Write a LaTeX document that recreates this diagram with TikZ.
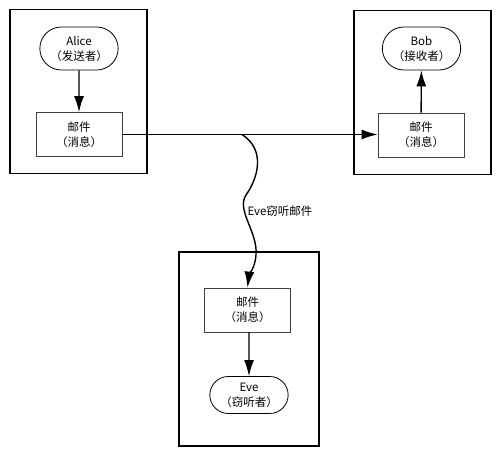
\documentclass[tikz,border=0pt]{standalone}
\usepackage{fontspec}
\setmainfont{Noto Sans CJK SC}
\usetikzlibrary{positioning, arrows.meta, shapes.misc}

\tikzset{
    frame/.style={draw, line width=1.5pt, minimum width=137pt, minimum height=164pt},
    msg/.style={draw=black!75, line width=0.8pt, fill=white, minimum width=86pt, minimum height=44pt, align=center, font=\fontsize{11.5pt}{15pt}\selectfont},
    party/.style={draw, line width=0.8pt, rounded rectangle, minimum width=85pt, minimum height=43pt, align=center, font=\fontsize{11.5pt}{15pt}\selectfont},
    link/.style={line width=1.4pt, -{Latex[length=16pt, width=10pt]}}
}

\begin{document}
\begin{tikzpicture}[x=1pt, y=-1pt]
        \useasboundingbox (0,0) rectangle (500,457);
        % the three places
        \node[frame] (alicebox) at (78.5,91.5) {};
        \node[frame] (bobbox) at (422.5,92.5) {};
        \node[frame, minimum width=140pt, minimum height=194pt] (evebox) at (249,349) {};

        \node[party] (alice) at (79,48.5) {Alice\\（发送者）};
        \node[msg] (alicemail) at (79,134.5) {邮件\\（消息）};

        \node[party] (bob) at (421.5,48.5) {Bob\\（接收者）};
        \node[msg] (bobmail) at (421,135) {邮件\\（消息）};

        \node[msg] (evemail) at (247.5,310) {邮件\\（消息）};
        \node[party, minimum height=37pt] (eve) at (249,395) {Eve\\（窃听者）};

        \draw[link] (alice) -- (alicemail);
        \draw[link] (bobmail) -- (bob);
        \draw[link] (eve |- evemail.south) -- (eve);
        \draw[link] (alicemail.east) -- (alicemail.east -| bobmail.west);

        % Eve taps the line
        \coordinate (tap) at (242,134.5);
        \draw[link] (tap) .. controls (266,150) and (258,178) .. (246,195)
            .. controls (236,210) and (258,232) .. (256,255)
            .. controls (255,268) and (249,275) .. (evemail.north);
        \node[font=\fontsize{11.5pt}{15pt}\selectfont] (taplabel) at (280,211) {Eve窃听邮件};
    \end{tikzpicture}
\end{document}
